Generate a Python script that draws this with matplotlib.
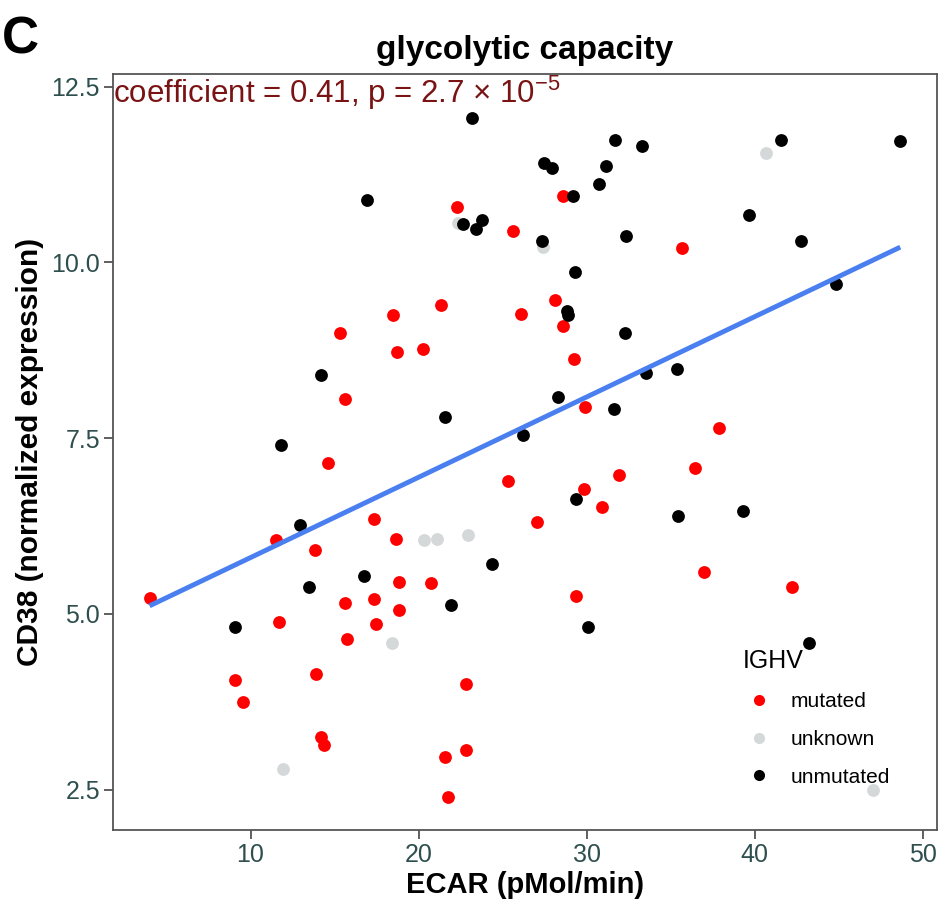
import numpy as np
import matplotlib
matplotlib.use("Agg")
import matplotlib.pyplot as plt
from matplotlib.lines import Line2D

# ECAR (x) and CD38 expression (y) per IGHV status
mutated_x = [22.3, 25.64, 21.33, 18.49, 15.32, 18.73, 20.26, 26.1, 15.6, 28.58,
             28.1, 28.58, 29.25, 35.66, 29.9, 37.9, 36.45, 25.34, 31.91, 29.85,
             30.92, 27.05, 37.0, 42.24, 29.37, 14.63, 17.35, 11.51, 18.65, 13.85,
             18.83, 20.74, 3.99, 15.6, 17.35, 18.83, 17.45, 11.69, 15.76, 13.91,
             9.09, 9.53, 22.84, 14.19, 14.35, 22.83, 21.57, 21.75]
mutated_y = [10.79, 10.44, 9.40, 9.25, 9.00, 8.72, 8.77, 9.26, 8.06, 10.94,
             9.46, 9.10, 8.62, 10.21, 7.94, 7.65, 7.08, 6.89, 6.97, 6.78,
             6.52, 6.31, 5.60, 5.38, 5.26, 7.14, 6.35, 6.05, 6.07, 5.91,
             5.46, 5.44, 5.22, 5.16, 5.21, 5.06, 4.86, 4.88, 4.65, 4.14,
             4.06, 3.75, 4.00, 3.25, 3.13, 3.07, 2.97, 2.40]

unmutated_x = [23.2, 16.95, 22.62, 23.8, 23.4, 14.21, 21.59, 11.79, 31.69, 33.32,
               27.46, 27.96, 31.17, 30.76, 29.19, 41.57, 48.67, 27.35, 32.35, 39.68,
               42.74, 29.31, 28.81, 28.91, 32.29, 44.85, 28.30, 33.52, 35.38, 31.61,
               26.2, 29.35, 35.44, 39.29, 30.06, 43.22, 12.94, 24.37, 16.77, 13.48,
               21.93, 9.05]
unmutated_y = [12.05, 10.89, 10.55, 10.60, 10.47, 8.40, 7.80, 7.41, 11.74, 11.65,
               11.42, 11.35, 11.37, 11.12, 10.94, 11.74, 11.73, 10.30, 10.38, 10.68,
               10.30, 9.87, 9.31, 9.25, 8.99, 9.70, 8.09, 8.43, 8.49, 7.91,
               7.54, 6.63, 6.39, 6.47, 4.81, 4.59, 6.26, 5.71, 5.54, 5.39,
               5.13, 4.81]

unknown_x = [22.36, 40.66, 27.4, 20.32, 21.08, 22.92, 18.43, 11.91, 47.07]
unknown_y = [10.56, 11.56, 10.22, 6.05, 6.07, 6.13, 4.59, 2.80, 2.50]

x_ticks = [10, 20, 30, 40, 50]
y_ticks = [2.5, 5.0, 7.5, 10.0, 12.5]
y_tick_labels = ["2.5", "5.0", "7.5", "10.0", "12.5"]
legend_labels = ["mutated", "unknown", "unmutated"]

COL_MUT = "#ff0000"
COL_UNK = "#d4d8d9"
COL_UNM = "#000000"
COL_FIT = "#4a7ff0"
COL_TICK = "#2f4f4f"

SANS = ["Liberation Sans", "DejaVu Sans"]
plt.rcParams["font.family"] = SANS
plt.rcParams["mathtext.fontset"] = "custom"
plt.rcParams["mathtext.rm"] = "Liberation Sans"
plt.rcParams["mathtext.it"] = "Liberation Sans:italic"
plt.rcParams["mathtext.bf"] = "Liberation Sans:bold"

fig = plt.figure(figsize=(9.4, 9.07), dpi=100)
ax = fig.add_axes([0.1205, 0.0849, 0.876, 0.8335])

ms = 85
ax.scatter(unknown_x, unknown_y, s=ms, color=COL_UNK, linewidths=0, zorder=2)
ax.scatter(mutated_x, mutated_y, s=ms, color=COL_MUT, linewidths=0, zorder=3)
ax.scatter(unmutated_x, unmutated_y, s=ms, color=COL_UNM, linewidths=0, zorder=4)

# Least-squares fit over all samples
all_x = np.array(mutated_x + unmutated_x + unknown_x)
all_y = np.array(mutated_y + unmutated_y + unknown_y)
slope, intercept = np.polyfit(all_x, all_y, 1)
xs = np.array([all_x.min(), all_x.max()])
ax.plot(xs, intercept + slope * xs, color=COL_FIT, lw=3.5, zorder=5,
        solid_capstyle="butt")

ax.set_xlim(1.83, 50.84)
ax.set_ylim(1.927, 12.68)
ax.set_xticks(x_ticks)
ax.set_xticklabels([str(t) for t in x_ticks], fontsize=18, color=COL_TICK)
ax.set_yticks(y_ticks)
ax.set_yticklabels(y_tick_labels, fontsize=18, color=COL_TICK)
ax.tick_params(axis="both", length=6.5, width=1.2, color="#444444")
ax.tick_params(axis="x", pad=3)
ax.tick_params(axis="y", pad=3)
for sp in ax.spines.values():
    sp.set_color("#555555")
    sp.set_linewidth(1.3)

ax.set_xlabel("ECAR (pMol/min)", fontsize=21, fontweight="bold", labelpad=3)
ax.set_ylabel("CD38 (normalized expression)", fontsize=21.5, fontweight="bold",
              labelpad=5)
fig.text(0.5585, 0.9438, "glycolytic capacity", fontsize=24,
         fontweight="bold", ha="center", va="center")

ax.text(0.0, 12.266, "coefficient = 0.41, p = 2.7 × 10$^{-5}$",
        transform=ax.get_yaxis_transform(), ha="left", va="baseline",
        fontsize=22.5, color="#7a1414", zorder=6)

fig.text(0.002, 0.956, "C", fontsize=37, fontweight="bold", ha="left",
         va="center")

# Legend drawn inside the panel
handles = [Line2D([], [], ls="", marker="o", ms=8, mec="none", mfc=c)
           for c in (COL_MUT, COL_UNK, COL_UNM)]
leg = ax.legend(handles, legend_labels, title="IGHV",
                loc="upper left", bbox_to_anchor=(0.754, 0.25), frameon=False,
                fontsize=15, title_fontsize=18, handletextpad=0.7,
                labelspacing=0.9, borderaxespad=0, handlelength=1.6)
leg._legend_box.align = "left"

fig.savefig("out.png", dpi=100)
